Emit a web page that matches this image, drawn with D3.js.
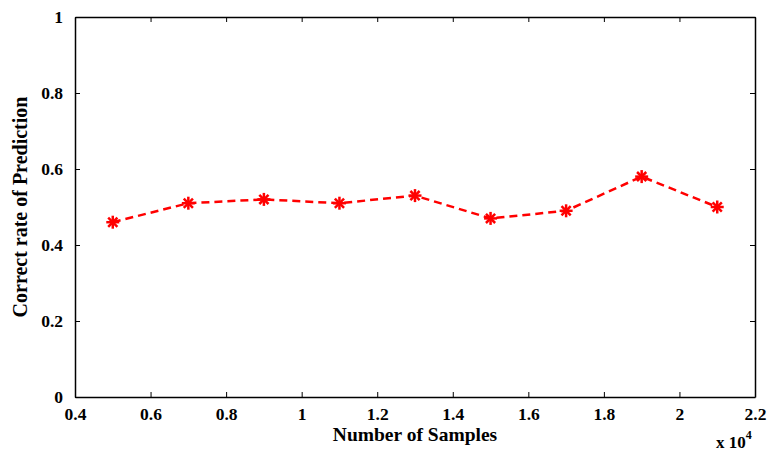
<!DOCTYPE html>
<html><head><meta charset="utf-8">
<script src="https://cdn.jsdelivr.net/npm/d3@7"></script>
<style>body{margin:0;background:#fff}svg{display:block}</style>
</head><body>
<svg id="c" width="769" height="451"></svg>
<script>
const samples = [5000, 7000, 9000, 11000, 13000, 15000, 17000, 19000, 21000];
const correctRate = [0.46, 0.51, 0.52, 0.51, 0.53, 0.47, 0.49, 0.58, 0.50];
const xTicks = [0.4, 0.6, 0.8, 1, 1.2, 1.4, 1.6, 1.8, 2, 2.2];
const yTicks = [0, 0.2, 0.4, 0.6, 0.8, 1];

const svg = d3.select("#c");
const L = 75, R = 755, T = 17, B = 397;
const font = "'Liberation Serif','Times New Roman',serif";
const x = d3.scaleLinear().domain([0.4, 2.2]).range([L, R]);
const y = d3.scaleLinear().domain([0, 1]).range([B, T]);

const fmt = d => String(d);
const tl = 5;
svg.append("g").attr("transform", `translate(0,${B})`)
  .call(d3.axisBottom(x).tickValues(xTicks).tickFormat(fmt).tickSizeInner(-tl).tickSizeOuter(0).tickPadding(11));
svg.append("g").attr("transform", `translate(0,${T})`)
  .call(d3.axisTop(x).tickValues(xTicks).tickFormat("").tickSizeInner(-tl).tickSizeOuter(0));
svg.append("g").attr("transform", `translate(${L},0)`)
  .call(d3.axisLeft(y).tickValues(yTicks).tickFormat(fmt).tickSizeInner(-tl).tickSizeOuter(0).tickPadding(12));
svg.append("g").attr("transform", `translate(${R},0)`)
  .call(d3.axisRight(y).tickValues(yTicks).tickFormat("").tickSizeInner(-tl).tickSizeOuter(0));

svg.selectAll(".domain").attr("stroke", "#000").attr("stroke-width", 1.5);
svg.selectAll(".tick line").attr("stroke", "#000").attr("stroke-width", 1);
svg.selectAll(".tick text").attr("font-family", font).attr("font-size", 17.5)
  .attr("font-weight", "bold").attr("fill", "#000");

const line = d3.line().x((d, i) => x(samples[i] / 1e4)).y(d => y(d));
svg.append("path").datum(correctRate).attr("d", line)
  .attr("fill", "none").attr("stroke", "#ff0000").attr("stroke-width", 2.5)
  .attr("stroke-dasharray", "8,5");

const ms = 6.5;
const mk = svg.append("g").selectAll("g").data(correctRate).join("g")
  .attr("transform", (d, i) => `translate(${x(samples[i] / 1e4)},${y(d)})`);
[0, 45, 90, 135].forEach(a => {
  const r = a * Math.PI / 180;
  mk.append("line")
    .attr("x1", -ms * Math.cos(r)).attr("y1", -ms * Math.sin(r))
    .attr("x2", ms * Math.cos(r)).attr("y2", ms * Math.sin(r))
    .attr("stroke", "#ff0000").attr("stroke-width", 2.5);
});

svg.append("text").attr("x", 415).attr("y", 441).attr("text-anchor", "middle")
  .attr("font-family", font).attr("font-size", 19.5).attr("font-weight", "bold").text("Number of Samples");
svg.append("text").attr("transform", `translate(27,${(T + B) / 2}) rotate(-90)`).attr("text-anchor", "middle")
  .attr("font-family", font).attr("font-size", 20).attr("font-weight", "bold").text("Correct rate of Prediction");
const ex = svg.append("text").attr("x", 716).attr("y", 448)
  .attr("font-family", font).attr("font-size", 17).attr("font-weight", "bold");
ex.append("tspan").text("x 10");
ex.append("tspan").attr("dy", -9).attr("font-size", 12).text("4");
</script>
</body></html>
